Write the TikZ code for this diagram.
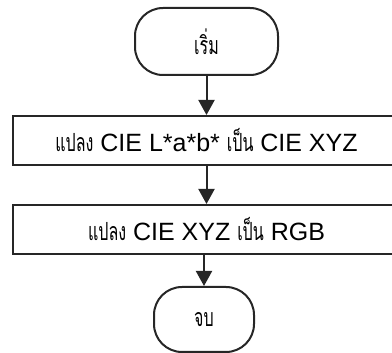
\documentclass[tikz,border=0pt]{standalone}
\usepackage{fontspec}
\setmainfont{Liberation Sans}
\newfontfamily\thaifont[Script=Thai, FakeStretch=0.64]{Loma}
\usetikzlibrary{arrows.meta}
\tikzset{
  term/.style={draw=black!85, line width=2pt, rounded corners=28pt, minimum width=#1, inner sep=0pt, font=\fontsize{25}{29}\selectfont},
  procbox/.style={draw=black!85, line width=2pt, minimum width=387pt, minimum height=49pt, inner sep=0pt, font=\fontsize{25}{29}\selectfont},
  flow/.style={line width=2pt, draw=black!85, -{Triangle[width=16pt,length=15pt]}}
}
\begin{document}
\begin{tikzpicture}[x=1pt,y=-1pt]
\useasboundingbox (0,0) rectangle (392,353);
\clip (0,0) rectangle (392,353);
\node[term=143pt, minimum height=67pt] (start) at (206.5,41.5) {\thaifont เริ่ม};
\node[procbox] (conv1) at (206.5,140.5) {{\thaifont แปลง} CIE L*a*b* {\thaifont เป็น} CIE XYZ};
\node[procbox] (conv2) at (206.5,229.5) {{\thaifont แปลง} CIE XYZ {\thaifont เป็น} RGB};
\node[term=100pt, minimum height=65pt] (stop) at (204,319.5) {\thaifont จบ};
\draw[flow] (start) -- (conv1);
\draw[flow] (conv1) -- (conv2);
\draw[flow] (conv2.south -| stop.north) -- (stop);
\end{tikzpicture}
\end{document}
